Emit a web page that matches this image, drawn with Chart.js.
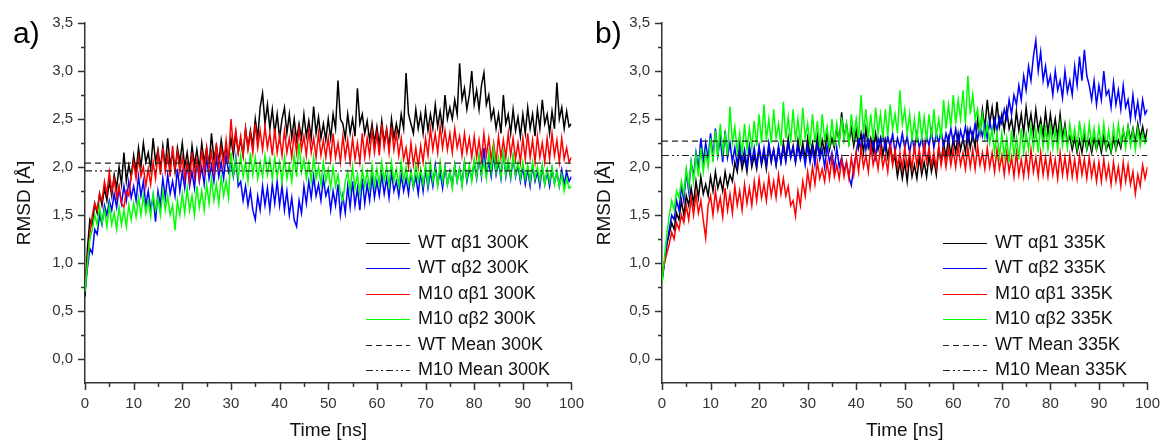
<!DOCTYPE html>
<html lang="en">
<head>
<meta charset="UTF-8">
<title>RMSD 300K / 335K</title>
<script src="https://cdn.jsdelivr.net/npm/chart.js"></script>
<style>
  body { margin: 0; background: #fff; }
  #wrap { position: relative; width: 1163px; height: 443px; overflow: hidden; }
  canvas { position: absolute; top: 0; }
  #chartA { left: 0; }
  #chartB { left: 580px; }
</style>
</head>
<body>
<div id="wrap">
  <canvas id="chartA" width="596" height="443"></canvas>
  <canvas id="chartB" width="592" height="443"></canvas>
</div>
<script>
// sampling times (ns)
const timeNs = [0, 0.5, 1, 1.5, 2, 2.5, 3, 3.5, 4, 4.5, 5, 5.5, 6, 6.5, 7, 7.5, 8, 8.5, 9, 9.5,
  10, 10.5, 11, 11.5, 12, 12.5, 13, 13.5, 14, 14.5, 15, 15.5, 16, 16.5, 17, 17.5, 18, 18.5, 19, 19.5,
  20, 20.5, 21, 21.5, 22, 22.5, 23, 23.5, 24, 24.5, 25, 25.5, 26, 26.5, 27, 27.5, 28, 28.5, 29, 29.5,
  30, 30.5, 31, 31.5, 32, 32.5, 33, 33.5, 34, 34.5, 35, 35.5, 36, 36.5, 37, 37.5, 38, 38.5, 39, 39.5,
  40, 40.5, 41, 41.5, 42, 42.5, 43, 43.5, 44, 44.5, 45, 45.5, 46, 46.5, 47, 47.5, 48, 48.5, 49, 49.5,
  50, 50.5, 51, 51.5, 52, 52.5, 53, 53.5, 54, 54.5, 55, 55.5, 56, 56.5, 57, 57.5, 58, 58.5, 59, 59.5,
  60, 60.5, 61, 61.5, 62, 62.5, 63, 63.5, 64, 64.5, 65, 65.5, 66, 66.5, 67, 67.5, 68, 68.5, 69, 69.5,
  70, 70.5, 71, 71.5, 72, 72.5, 73, 73.5, 74, 74.5, 75, 75.5, 76, 76.5, 77, 77.5, 78, 78.5, 79, 79.5,
  80, 80.5, 81, 81.5, 82, 82.5, 83, 83.5, 84, 84.5, 85, 85.5, 86, 86.5, 87, 87.5, 88, 88.5, 89, 89.5,
  90, 90.5, 91, 91.5, 92, 92.5, 93, 93.5, 94, 94.5, 95, 95.5, 96, 96.5, 97, 97.5, 98, 98.5, 99, 99.5,
  100];

// ---- panel a) 300K ----
const wtAb1_300 = [0.65, 1.15, 1.45, 1.38, 1.62, 1.52, 1.72, 1.6, 1.78, 1.65, 1.85, 1.7, 1.92, 1.78, 2.0, 1.82, 2.15, 1.85, 2.02, 1.9,
  2.12, 1.95, 2.2, 2.0, 2.25, 2.05, 2.15, 1.98, 2.3, 2.05, 2.18, 1.98, 2.22, 2.0, 2.3, 2.02, 2.15, 1.95, 2.2, 2.05,
  2.25, 2.0, 2.15, 1.95, 2.22, 2.02, 2.18, 1.98, 2.25, 2.05, 2.2, 2.0, 2.35, 2.08, 2.22, 2.05, 2.28, 2.1, 2.2, 2.08,
  2.3, 2.12, 2.35, 2.15, 2.28, 2.12, 2.4, 2.2, 2.38, 2.22, 2.5, 2.3, 2.62, 2.77, 2.45, 2.65, 2.4, 2.6, 2.35, 2.55,
  2.3, 2.5, 2.62, 2.35, 2.55, 2.3, 2.5, 2.28, 2.45, 2.3, 2.55, 2.32, 2.48, 2.3, 2.63, 2.35, 2.52, 2.3, 2.45, 2.28,
  2.5, 2.3, 2.55, 2.4, 2.9, 2.5, 2.45, 2.3, 2.55, 2.35, 2.5, 2.32, 2.82, 2.45, 2.55, 2.35, 2.48, 2.28, 2.45, 2.25,
  2.42, 2.22, 2.48, 2.25, 2.4, 2.2, 2.5, 2.3, 2.45, 2.32, 2.55, 2.4, 2.98, 2.55, 2.45, 2.35, 2.6, 2.4, 2.55, 2.35,
  2.6, 2.38, 2.55, 2.4, 2.65, 2.42, 2.58, 2.4, 2.75, 2.5, 2.62, 2.5, 2.7, 2.55, 3.08, 2.7, 2.82, 2.6, 2.75, 3.0,
  2.65, 2.8, 2.6, 2.85, 2.98, 2.65, 2.75, 2.5, 2.6, 2.4, 2.55, 2.35, 2.75, 2.45, 2.55, 2.35, 2.6, 2.38, 2.52, 2.32,
  2.55, 2.35, 2.62, 2.4, 2.55, 2.32, 2.6, 2.4, 2.7, 2.45, 2.55, 2.35, 2.58, 2.4, 2.88, 2.5, 2.62, 2.4, 2.58, 2.42,
  2.45];
const wtAb2_300 = [0.7, 0.95, 1.15, 1.1, 1.35, 1.3, 1.5, 1.4, 1.6, 1.5, 1.65, 1.55, 1.72, 1.58, 1.78, 1.62, 1.8, 1.65, 1.85, 1.68,
  1.8, 1.65, 1.9, 1.7, 1.85, 1.6, 1.75, 1.55, 1.7, 1.43, 1.75, 1.6, 1.88, 1.68, 1.92, 1.72, 1.85, 1.7, 1.98, 1.75,
  1.95, 1.78, 2.05, 1.8, 1.95, 1.78, 2.08, 1.85, 2.0, 1.82, 2.1, 1.88, 2.02, 1.85, 2.1, 1.9, 2.05, 1.88, 2.12, 1.95,
  2.05, 1.9, 2.1, 1.8, 1.85, 1.65, 1.8, 1.6, 1.75, 1.55, 1.45, 1.7, 1.55, 1.8, 1.6, 1.78, 1.55, 1.82, 1.62, 1.85,
  1.6, 1.8, 1.55, 1.75, 1.5, 1.68, 1.45, 1.38, 1.65, 1.52, 1.8, 1.62, 1.85, 1.68, 1.9, 1.7, 1.82, 1.65, 1.88, 1.7,
  1.78, 1.55, 1.75, 1.6, 1.82, 1.5, 1.7, 1.52, 1.8, 1.58, 1.85, 1.6, 1.78, 1.55, 1.88, 1.62, 1.82, 1.65, 1.9, 1.68,
  1.85, 1.7, 1.92, 1.72, 1.88, 1.68, 1.95, 1.75, 1.85, 1.7, 1.92, 1.75, 1.88, 1.72, 1.95, 1.78, 1.9, 1.72, 1.95, 1.75,
  1.98, 1.78, 1.95, 1.8, 2.02, 1.82, 1.95, 1.78, 2.0, 1.82, 1.95, 1.8, 2.02, 1.85, 1.98, 1.82, 2.05, 1.85, 1.98, 1.88,
  2.05, 1.88, 2.1, 1.9, 2.2, 1.92, 2.05, 1.9, 2.12, 1.92, 2.05, 1.88, 2.15, 1.9, 2.05, 1.88, 2.1, 1.9, 2.02, 1.85,
  2.0, 1.82, 1.98, 1.8, 2.02, 1.85, 1.95, 1.8, 2.0, 1.82, 1.95, 1.8, 1.98, 1.83, 1.95, 1.8, 1.97, 1.82, 1.95, 1.85,
  1.9];
const m10Ab1_300 = [0.75, 1.0, 1.3, 1.5, 1.62, 1.55, 1.72, 1.65, 1.85, 1.72, 1.95, 1.75, 1.88, 1.68, 1.8, 1.62, 1.58, 1.75, 1.7, 1.9,
  2.05, 1.88, 2.1, 1.9, 2.0, 1.8, 1.98, 1.82, 2.05, 1.88, 2.15, 1.92, 2.2, 1.95, 2.12, 1.9, 2.22, 1.98, 2.15, 1.95,
  2.1, 1.88, 2.05, 1.85, 2.15, 1.9, 2.08, 1.88, 2.18, 1.95, 2.2, 1.98, 2.15, 1.95, 2.25, 2.0, 2.2, 2.02, 2.28, 2.05,
  2.5, 2.2, 2.38, 2.15, 2.32, 2.12, 2.4, 2.18, 2.35, 2.15, 2.45, 2.2, 2.38, 2.18, 2.42, 2.2, 2.35, 2.12, 2.4, 2.15,
  2.32, 2.12, 2.38, 2.15, 2.3, 2.1, 2.35, 2.15, 2.4, 2.18, 2.32, 2.12, 2.38, 2.15, 2.3, 2.1, 2.35, 2.12, 2.28, 2.1,
  2.3, 2.08, 2.35, 2.1, 2.25, 2.05, 2.32, 2.1, 2.28, 2.05, 2.3, 2.08, 2.25, 2.05, 2.35, 2.1, 2.3, 2.12, 2.38, 2.15,
  2.35, 2.12, 2.45, 2.2, 2.38, 2.15, 2.42, 2.18, 2.35, 2.12, 2.3, 2.08, 2.2, 2.0, 2.25, 2.02, 2.2, 2.0, 2.22, 2.05,
  2.3, 2.12, 2.4, 2.18, 2.35, 2.15, 2.42, 2.2, 2.38, 2.18, 2.35, 2.15, 2.4, 2.2, 2.32, 2.12, 2.35, 2.15, 2.3, 2.1,
  2.32, 2.1, 2.28, 2.08, 2.35, 2.12, 2.3, 2.08, 2.25, 2.05, 2.32, 2.1, 2.28, 2.1, 2.35, 2.12, 2.3, 2.08, 2.25, 2.05,
  2.3, 2.08, 2.35, 2.1, 2.28, 2.05, 2.32, 2.1, 2.25, 2.05, 2.3, 2.08, 2.35, 2.12, 2.28, 2.05, 2.3, 2.08, 2.2, 2.05,
  2.1];
const m10Ab2_300 = [0.7, 1.0, 1.25, 1.35, 1.5, 1.4, 1.58, 1.42, 1.55, 1.38, 1.6, 1.4, 1.52, 1.35, 1.58, 1.4, 1.55, 1.38, 1.6, 1.45,
  1.62, 1.48, 1.68, 1.5, 1.7, 1.52, 1.65, 1.48, 1.72, 1.55, 1.68, 1.5, 1.75, 1.55, 1.7, 1.5, 1.6, 1.34, 1.65, 1.5,
  1.72, 1.52, 1.78, 1.55, 1.7, 1.5, 1.8, 1.58, 1.75, 1.55, 1.82, 1.62, 1.88, 1.65, 1.82, 1.62, 1.9, 1.7, 1.85, 1.68,
  2.15, 1.92, 2.08, 1.88, 2.12, 1.9, 2.05, 1.85, 2.15, 1.92, 2.1, 1.88, 2.05, 1.9, 2.12, 1.92, 2.08, 1.88, 2.1, 1.9,
  2.05, 1.85, 2.1, 1.88, 2.02, 1.85, 2.12, 1.9, 2.25, 1.95, 2.08, 1.88, 2.05, 1.85, 2.1, 1.88, 2.0, 1.82, 2.05, 1.85,
  1.98, 1.78, 2.0, 1.8, 1.92, 1.72, 1.65, 1.85, 1.95, 1.75, 2.0, 1.78, 1.92, 1.72, 1.98, 1.8, 1.95, 1.78, 2.02, 1.8,
  1.98, 1.82, 2.05, 1.85, 2.0, 1.82, 2.05, 1.85, 1.98, 1.8, 2.05, 1.85, 2.0, 1.82, 1.95, 1.8, 2.02, 1.85, 1.98, 1.82,
  2.02, 1.82, 2.05, 1.85, 1.98, 1.8, 2.05, 1.85, 2.0, 1.82, 1.95, 1.78, 2.02, 1.85, 1.98, 1.8, 2.05, 1.88, 2.02, 1.85,
  2.08, 1.9, 2.12, 1.92, 2.05, 1.88, 2.15, 1.95, 2.2, 1.95, 2.1, 1.9, 2.15, 1.92, 2.08, 1.9, 2.12, 1.92, 2.05, 1.88,
  2.05, 1.88, 2.02, 1.85, 2.05, 1.88, 2.0, 1.85, 2.02, 1.82, 1.98, 1.85, 2.0, 1.82, 1.95, 1.8, 1.92, 1.75, 1.88, 1.78,
  1.8];
const wtMean300 = 2.04;
const m10Mean300 = 1.96;
const labels300 = ['WT \u03b1\u03b21 300K', 'WT \u03b1\u03b22 300K', 'M10 \u03b1\u03b21 300K',
  'M10 \u03b1\u03b22 300K', 'WT Mean 300K', 'M10 Mean 300K'];

// ---- panel b) 335K ----
const wtAb1_335 = [0.8, 1.0, 1.2, 1.3, 1.42, 1.35, 1.52, 1.45, 1.65, 1.5, 1.7, 1.6, 1.78, 1.62, 1.85, 1.68, 1.9, 1.72, 1.82, 1.7,
  1.9, 1.75, 1.95, 1.78, 1.88, 1.75, 1.95, 1.8, 1.92, 1.85, 2.05, 1.95, 2.15, 1.98, 2.1, 1.95, 2.2, 2.0, 2.12, 1.98,
  2.2, 2.02, 2.15, 1.98, 2.22, 2.05, 2.18, 2.02, 2.2, 2.05, 2.25, 2.08, 2.3, 2.1, 2.22, 2.05, 2.28, 2.1, 2.25, 2.08,
  2.3, 2.12, 2.25, 2.1, 2.32, 2.12, 2.28, 2.15, 2.35, 2.18, 2.3, 2.2, 2.42, 2.25, 2.57, 2.3, 2.45, 2.25, 2.4, 2.22,
  2.38, 2.2, 2.35, 2.15, 2.4, 2.2, 2.3, 2.15, 2.35, 2.18, 2.3, 2.12, 2.28, 2.1, 2.25, 2.05, 2.1, 1.9, 2.05, 1.88,
  2.05, 1.85, 2.1, 1.9, 2.02, 1.88, 2.1, 1.92, 2.05, 1.9, 2.12, 1.95, 2.08, 1.92, 2.2, 2.05, 2.25, 2.1, 2.3, 2.12,
  2.3, 2.15, 2.35, 2.18, 2.3, 2.15, 2.38, 2.2, 2.35, 2.2, 2.5, 2.35, 2.6, 2.4, 2.7, 2.45, 2.62, 2.4, 2.68, 2.42,
  2.55, 2.38, 2.6, 2.4, 2.5, 2.32, 2.58, 2.38, 2.55, 2.35, 2.62, 2.4, 2.55, 2.35, 2.6, 2.38, 2.5, 2.32, 2.58, 2.35,
  2.55, 2.35, 2.5, 2.3, 2.55, 2.3, 2.45, 2.25, 2.32, 2.18, 2.3, 2.15, 2.28, 2.15, 2.32, 2.18, 2.28, 2.15, 2.3, 2.18,
  2.28, 2.15, 2.32, 2.18, 2.25, 2.15, 2.3, 2.18, 2.28, 2.2, 2.38, 2.25, 2.42, 2.28, 2.4, 2.25, 2.45, 2.3, 2.42, 2.28,
  2.4];
const wtAb2_335 = [0.85, 1.0, 1.2, 1.35, 1.5, 1.45, 1.65, 1.55, 1.8, 1.65, 1.95, 1.75, 2.05, 1.9, 2.15, 1.98, 2.3, 2.05, 2.25, 2.08,
  2.35, 2.1, 2.4, 2.12, 2.3, 2.05, 2.38, 2.1, 2.25, 2.05, 2.2, 2.02, 2.25, 2.05, 2.18, 2.0, 2.22, 2.05, 2.2, 2.02,
  2.22, 2.05, 2.2, 2.02, 2.25, 2.08, 2.18, 2.02, 2.22, 2.05, 2.2, 2.05, 2.25, 2.1, 2.2, 2.05, 2.22, 2.08, 2.18, 2.02,
  2.22, 2.05, 2.2, 2.02, 2.25, 2.08, 2.18, 2.0, 2.22, 2.05, 2.15, 1.98, 2.2, 2.0, 2.1, 1.95, 2.05, 1.9, 1.81, 2.0,
  2.15, 2.3, 2.2, 2.35, 2.18, 2.3, 2.15, 2.28, 2.1, 2.3, 2.2, 2.35, 2.18, 2.32, 2.2, 2.35, 2.15, 2.3, 2.2, 2.35,
  2.2, 2.32, 2.15, 2.3, 2.18, 2.35, 2.2, 2.3, 2.15, 2.32, 2.22, 2.38, 2.2, 2.35, 2.25, 2.38, 2.2, 2.35, 2.25, 2.4,
  2.25, 2.4, 2.22, 2.38, 2.28, 2.42, 2.25, 2.4, 2.3, 2.45, 2.28, 2.42, 2.32, 2.45, 2.3, 2.48, 2.35, 2.5, 2.38, 2.52,
  2.45, 2.6, 2.5, 2.7, 2.55, 2.75, 2.65, 2.85, 2.7, 2.95, 2.8, 3.05, 2.9, 3.15, 3.32, 3.0, 3.2, 2.9, 3.05, 2.85,
  2.95, 2.75, 3.0, 2.8, 2.9, 2.72, 3.0, 2.78, 2.9, 2.75, 3.05, 2.85, 3.15, 2.9, 3.22, 2.95, 2.85, 2.7, 2.9, 2.65,
  2.85, 2.7, 3.0, 2.75, 2.8, 2.62, 2.88, 2.65, 2.8, 2.6, 2.85, 2.62, 2.7, 2.5, 2.75, 2.52, 2.68, 2.48, 2.7, 2.55,
  2.6];
const m10Ab1_335 = [0.9, 1.0, 1.1, 1.2, 1.32, 1.25, 1.42, 1.35, 1.5, 1.42, 1.6, 1.45, 1.68, 1.5, 1.72, 1.52, 1.65, 1.45, 1.26, 1.6,
  1.7, 1.5, 1.75, 1.55, 1.68, 1.48, 1.78, 1.55, 1.72, 1.52, 1.8, 1.6, 1.75, 1.55, 1.82, 1.62, 1.78, 1.6, 1.85, 1.65,
  1.88, 1.68, 1.82, 1.65, 1.9, 1.7, 1.85, 1.68, 1.92, 1.72, 1.88, 1.7, 1.8, 1.6, 1.65, 1.49, 1.75, 1.6, 1.85, 1.7,
  1.95, 1.78, 2.0, 1.82, 2.05, 1.88, 1.98, 1.85, 2.05, 1.88, 2.1, 1.9, 2.02, 1.88, 2.08, 1.9, 2.05, 1.88, 2.1, 1.92,
  2.15, 1.95, 2.2, 2.0, 2.12, 1.95, 2.22, 2.02, 2.15, 1.98, 2.2, 2.0, 2.12, 1.95, 2.22, 2.02, 2.18, 2.0, 2.15, 1.98,
  2.2, 2.0, 2.15, 1.98, 2.22, 2.02, 2.18, 2.0, 2.25, 2.05, 2.2, 2.02, 2.15, 1.98, 2.22, 2.02, 2.18, 2.0, 2.2, 2.02,
  2.18, 2.0, 2.22, 2.02, 2.15, 1.98, 2.2, 2.0, 2.18, 1.98, 2.22, 2.02, 2.15, 1.98, 2.2, 2.0, 2.15, 1.95, 2.18, 1.98,
  2.12, 1.92, 2.15, 1.95, 2.1, 1.9, 2.15, 1.92, 2.08, 1.9, 2.12, 1.92, 2.18, 1.95, 2.1, 1.9, 2.15, 1.92, 2.1, 1.9,
  2.12, 1.92, 2.08, 1.88, 2.15, 1.92, 2.1, 1.9, 2.12, 1.9, 2.08, 1.88, 2.12, 1.92, 2.08, 1.88, 2.1, 1.9, 2.05, 1.85,
  2.05, 1.85, 2.08, 1.88, 2.02, 1.82, 2.05, 1.85, 2.0, 1.8, 2.05, 1.85, 2.02, 1.82, 1.95, 1.72, 1.92, 1.8, 2.02, 1.88,
  2.0];
const m10Ab2_335 = [0.8, 1.05, 1.3, 1.5, 1.65, 1.55, 1.75, 1.68, 1.85, 1.72, 1.98, 1.8, 2.05, 1.85, 2.12, 1.9, 2.2, 1.95, 2.15, 2.0,
  2.3, 2.05, 2.38, 2.1, 2.45, 2.15, 2.35, 2.12, 2.63, 2.25, 2.42, 2.15, 2.35, 2.12, 2.45, 2.18, 2.4, 2.2, 2.48, 2.22,
  2.55, 2.25, 2.65, 2.28, 2.5, 2.25, 2.6, 2.3, 2.45, 2.22, 2.68, 2.3, 2.52, 2.25, 2.6, 2.28, 2.5, 2.22, 2.62, 2.3,
  2.45, 2.22, 2.55, 2.25, 2.48, 2.2, 2.55, 2.28, 2.42, 2.2, 2.5, 2.22, 2.45, 2.25, 2.52, 2.28, 2.45, 2.22, 2.55, 2.3,
  2.5, 2.3, 2.75, 2.35, 2.6, 2.3, 2.55, 2.28, 2.62, 2.35, 2.55, 2.3, 2.6, 2.32, 2.65, 2.4, 2.55, 2.35, 2.8, 2.45,
  2.6, 2.35, 2.55, 2.28, 2.5, 2.25, 2.58, 2.3, 2.52, 2.28, 2.55, 2.3, 2.6, 2.32, 2.5, 2.3, 2.7, 2.4, 2.65, 2.42,
  2.75, 2.45, 2.7, 2.5, 2.8, 2.45, 2.95, 2.55, 2.75, 2.5, 2.6, 2.38, 2.55, 2.3, 2.45, 2.25, 2.4, 2.15, 2.35, 2.1,
  2.35, 2.1, 2.3, 2.05, 2.38, 2.12, 2.3, 2.08, 2.4, 2.15, 2.35, 2.18, 2.42, 2.2, 2.38, 2.15, 2.45, 2.2, 2.4, 2.18,
  2.42, 2.2, 2.38, 2.18, 2.45, 2.22, 2.4, 2.2, 2.45, 2.25, 2.4, 2.2, 2.48, 2.25, 2.42, 2.2, 2.45, 2.22, 2.4, 2.2,
  2.42, 2.22, 2.45, 2.2, 2.38, 2.18, 2.42, 2.2, 2.45, 2.25, 2.4, 2.2, 2.42, 2.22, 2.38, 2.18, 2.4, 2.22, 2.35, 2.25,
  2.3];
const wtMean335 = 2.27;
const m10Mean335 = 2.12;
const labels335 = ['WT \u03b1\u03b21 335K', 'WT \u03b1\u03b22 335K', 'M10 \u03b1\u03b21 335K',
  'M10 \u03b1\u03b22 335K', 'WT Mean 335K', 'M10 Mean 335K'];

const seriesColors = ['#000000', '#0000ff', '#ff0000', '#00ff00'];
const FONT = '"Liberation Sans", Arial, sans-serif';
Chart.defaults.font.family = FONT;

function pts(values) {
  return values.map((v, i) => ({ x: timeNs[i], y: v }));
}

function buildDatasets(series, wtMean, m10Mean, names) {
  const ds = series.map((vals, i) => ({
    label: names[i],
    data: pts(vals),
    borderColor: seriesColors[i],
    borderWidth: 1.5,
    pointRadius: 0,
    order: 4 - i   // green drawn on top, black at the bottom
  }));
  ds.push({
    label: names[4],
    data: [{ x: 0, y: wtMean }, { x: 100, y: wtMean }],
    borderColor: '#222',
    borderWidth: 1.1,
    borderDash: [6, 4],
    pointRadius: 0,
    order: 0
  });
  ds.push({
    label: names[5],
    data: [{ x: 0, y: m10Mean }, { x: 100, y: m10Mean }],
    borderColor: '#222',
    borderWidth: 1.1,
    borderDash: [7, 3, 2, 3, 2, 3],
    pointRadius: 0,
    order: 0
  });
  return ds;
}

// draws major/minor ticks, the inside legend and the panel letter
const decorPlugin = {
  id: 'decor',
  afterDraw(chart, args, opts) {
    const ctx = chart.ctx;
    const area = chart.chartArea;
    const xs = chart.scales.x, ys = chart.scales.y;
    ctx.save();
    ctx.strokeStyle = '#333';
    ctx.lineWidth = 1.5;
    ys.ticks.forEach(t => {
      if (t.value < 0) return;
      const y = Math.round(ys.getPixelForValue(t.value)) + 0.5;
      const len = t.label !== '' ? 7 : 4;
      ctx.beginPath();
      ctx.moveTo(area.left, y);
      ctx.lineTo(area.left - len, y);
      ctx.stroke();
    });
    xs.ticks.forEach(t => {
      const x = Math.round(xs.getPixelForValue(t.value)) + 0.5;
      const len = t.label !== '' ? 7 : 4;
      ctx.beginPath();
      ctx.moveTo(x, area.bottom);
      ctx.lineTo(x, area.bottom + len);
      ctx.stroke();
    });

    // legend
    ctx.font = '18px ' + FONT;
    ctx.textBaseline = 'middle';
    ctx.fillStyle = '#111';
    chart.data.datasets.forEach((d, i) => {
      const y = 243 + i * 25.4;
      const x0 = area.left + opts.legendX;
      ctx.save();
      ctx.strokeStyle = d.borderColor;
      ctx.lineWidth = 1;
      ctx.setLineDash(d.borderDash || []);
      ctx.beginPath();
      ctx.moveTo(x0, Math.round(y) + 0.5);
      ctx.lineTo(x0 + 44, Math.round(y) + 0.5);
      ctx.stroke();
      ctx.restore();
      ctx.fillText(d.label, x0 + 52, y);
    });

    // panel letter
    ctx.font = '30px ' + FONT;
    ctx.textBaseline = 'alphabetic';
    ctx.fillStyle = '#000';
    ctx.fillText(opts.letter, opts.letterX, 43);
    ctx.restore();
  }
};

function makeChart(id, series, wtMean, m10Mean, names, letter, letterX, axisLeft) {
  return new Chart(document.getElementById(id), {
    type: 'line',
    data: { datasets: buildDatasets(series, wtMean, m10Mean, names) },
    plugins: [decorPlugin],
    options: {
      responsive: false,
      animation: false,
      layout: { padding: { top: 23, left: 0, right: 0, bottom: 0 } },
      plugins: {
        legend: { display: false },
        tooltip: { enabled: false },
        decor: { letter: letter, letterX: letterX, legendX: 281 }
      },
      scales: {
        x: {
          type: 'linear',
          min: 0,
          max: 100,
          afterFit: s => { s.height = 60; },
          grid: { display: true, drawOnChartArea: false, drawTicks: false },
          border: { display: true, color: '#333', width: 1.5 },
          ticks: {
            stepSize: 5,
            autoSkip: false,
            maxRotation: 0,
            padding: 12,
            color: '#333',
            font: { size: 15 },
            callback: v => (v % 10 === 0 ? String(v) : '')
          },
          title: {
            display: true,
            text: 'Time [ns]',
            color: '#111',
            font: { size: 19, lineHeight: 1.2 },
            padding: { top: 0, bottom: 1 }
          }
        },
        y: {
          type: 'linear',
          min: -0.25,
          max: 3.5,
          afterFit: s => { s.width = axisLeft; },
          grid: { display: true, drawOnChartArea: false, drawTicks: false },
          border: { display: true, color: '#333', width: 1.5 },
          ticks: {
            stepSize: 0.25,
            autoSkip: false,
            padding: 12,
            color: '#333',
            font: { size: 15 },
            callback: v => {
              const r = Math.round(v * 2);
              if (v < 0 || Math.abs(v * 2 - r) > 1e-6) return '';
              return (r / 2).toFixed(1).replace('.', ',');
            }
          },
          title: {
            display: true,
            text: 'RMSD [\u00c5]',
            color: '#111',
            font: { size: 19, lineHeight: 1.2 },
            padding: { top: 13, bottom: 0 }
          }
        }
      }
    }
  });
}

makeChart('chartA', [wtAb1_300, wtAb2_300, m10Ab1_300, m10Ab2_300], wtMean300, m10Mean300,
  labels300, 'a)', 13, 85);
makeChart('chartB', [wtAb1_335, wtAb2_335, m10Ab1_335, m10Ab2_335], wtMean335, m10Mean335,
  labels335, 'b)', 15, 82);
</script>
</body>
</html>
